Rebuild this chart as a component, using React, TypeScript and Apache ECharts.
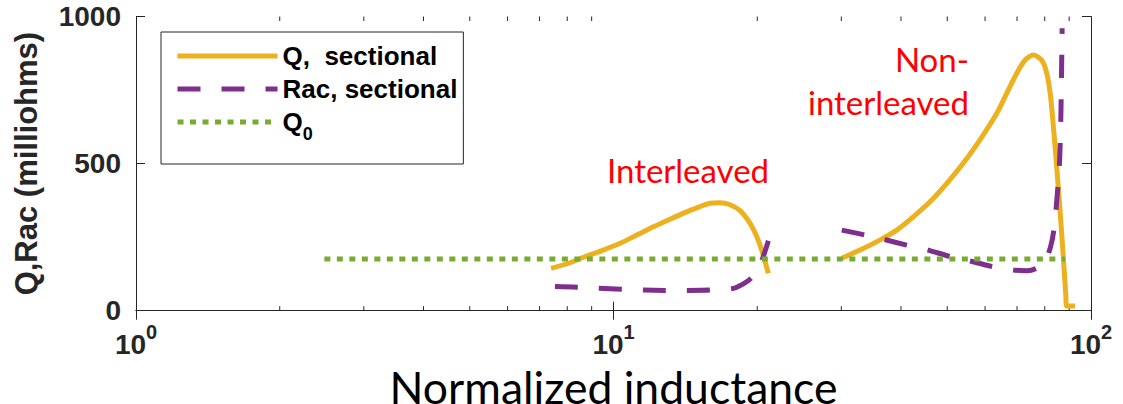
import React, { useEffect, useRef } from 'react';
import * as echarts from 'echarts';

// ---- Data ----
const qInterX = [7.40, 8.11, 8.79, 9.52, 10.32, 11.19, 12.12, 13.13, 14.23, 15.18, 15.93, 16.71, 17.54, 18.41, 19.32, 19.95, 20.43, 21.10];
const qInterY = [144, 163, 186, 206, 229, 257, 285, 311, 336, 354, 365, 367, 360, 340, 297, 252, 206, 127];
const qNonX = [30.06, 32.83, 36.1, 39.19, 42.5, 46.0, 49.9, 54.0, 58.5, 63.5, 66.6, 69.9, 72.8, 75.7, 78.8, 80.8, 82.3, 84.1, 85.7, 87.2, 88.6, 88.9, 92.6];
const qNonY = [178, 206, 240, 274, 320, 370, 433, 501, 580, 671, 739, 807, 852, 869, 852, 807, 727, 557, 388, 218, 48, 16, 16];

const racInterX = [7.54, 8.37, 9.29, 10.40, 11.54, 12.82, 14.23, 15.93, 17.82, 18.70, 19.47, 20.10, 20.59, 21.10];
const racInterY = [82, 80, 76, 73, 70, 69, 69, 70, 76, 91, 112, 144, 184, 238];
const racNonX = [30.06, 32.83, 36.1, 41.1, 45.6, 50.7, 55.8, 61.4, 68.8, 73.4, 76.9, 80.1, 82.3, 83.6, 84.7, 85.9, 86.5, 87.0];
const racNonY = [274, 261, 246, 223, 206, 184, 169, 152, 138, 136, 144, 167, 218, 274, 365, 501, 671, 960];

const q0X = [2.48, 88.2];
const q0Y = [176, 176];

const minorTickValues = [2, 3, 4, 5, 6, 7, 8, 9, 20, 30, 40, 50, 60, 70, 80, 90];

const seriesNames = ['Q,  sectional', 'Rac, sectional', 'Q0'];
const yTicks = { min: 0, max: 1000, interval: 500 };
const xRange = { min: 1, max: 100 };

const pairs = (xs: number[], ys: number[]) => xs.map((x, i) => [x, ys[i]]);
const joinSegments = (a: any[], b: any[]) => [...a, [25, '-'], ...b];

const AXIS = '#262626';
const BOLD_FONT = '"Liberation Sans", Arial, sans-serif';
const CAL_FONT = 'Lato, "Open Sans", sans-serif';

export default function App() {
  const ref = useRef<HTMLDivElement>(null);

  useEffect(() => {
    if (!ref.current) return;
    const chart = echarts.init(ref.current, null, { renderer: 'svg' });

    const axisLineStyle = { show: true, lineStyle: { color: AXIS, width: 1 } };
    const redText = (text: string, x: number, y: number, align: string) => ({
      type: 'text',
      x,
      y,
      silent: true,
      style: {
        text,
        fill: '#FF0000',
        fontFamily: CAL_FONT,
        fontSize: 33,
        textAlign: align,
        align,
        textVerticalAlign: 'middle',
        verticalAlign: 'middle',
      },
    });

    const option: any = {
      animation: false,
      backgroundColor: '#ffffff',
      grid: {
        left: 136,
        right: 32,
        top: 16.5,
        bottom: 93.3,
        containLabel: false,
        outerBoundsMode: 'none',
      },
      legend: {
        orient: 'vertical',
        left: 161,
        top: 32,
        data: seriesNames,
        selectedMode: false,
        itemWidth: 100,
        itemHeight: 28,
        itemGap: -9,
        padding: [3, 6, 21, 14],
        borderColor: AXIS,
        borderWidth: 1,
        backgroundColor: '#ffffff',
        lineStyle: { width: 'inherit' },
        itemStyle: { opacity: 0, color: 'rgba(0,0,0,0)', borderWidth: 0 },
        formatter: (name: string) => (name === 'Q0' ? '{m|Q}{sub|0}' : `{m|${name}}`),
        textStyle: {
          fontFamily: BOLD_FONT,
          fontWeight: 'bold',
          fontSize: 26,
          color: '#000',
          lineHeight: 42,
          rich: {
            m: { fontFamily: BOLD_FONT, fontWeight: 'bold', fontSize: 26, lineHeight: 42, color: '#000' },
            sub: { fontFamily: BOLD_FONT, fontWeight: 'bold', fontSize: 18, lineHeight: 18, padding: [24, 0, 0, 0], color: '#000' },
          },
        },
      },
      xAxis: [
        {
          type: 'log',
          logBase: 10,
          min: xRange.min,
          max: xRange.max,
          position: 'bottom',
          axisLine: axisLineStyle,
          axisTick: { show: true, inside: true, length: 9, lineStyle: { color: AXIS, width: 1 } },
          splitLine: { show: false },
          axisLabel: {
            margin: 11,
            formatter: (v: number) => `{b|10}{s|${Math.round(Math.log10(v))}}`,
            rich: {
              b: {
                fontFamily: BOLD_FONT,
                fontWeight: 'bold',
                fontSize: 28,
                lineHeight: 30,
                padding: [9, 0, 0, 0],
                verticalAlign: 'top',
                color: AXIS,
              },
              s: {
                fontFamily: BOLD_FONT,
                fontWeight: 'bold',
                fontSize: 20,
                lineHeight: 20,
                verticalAlign: 'top',
                color: AXIS,
              },
            },
          },
          name: 'Normalized inductance',
          nameLocation: 'middle',
          nameGap: 41,
          nameTextStyle: { fontFamily: CAL_FONT, fontSize: 44.5, lineHeight: 42, color: '#000' },
        },
        {
          type: 'log',
          logBase: 10,
          min: xRange.min,
          max: xRange.max,
          position: 'top',
          axisLine: axisLineStyle,
          axisTick: { show: true, inside: true, length: 9, lineStyle: { color: AXIS, width: 1 } },
          axisLabel: { show: false },
          splitLine: { show: false },
        },
      ],
      yAxis: [
        {
          type: 'value',
          min: yTicks.min,
          max: yTicks.max,
          interval: yTicks.interval,
          position: 'left',
          axisLine: axisLineStyle,
          axisTick: { show: true, inside: true, length: 9, lineStyle: { color: AXIS, width: 1 } },
          splitLine: { show: false },
          axisLabel: {
            margin: 15,
            formatter: (v: number) => String(v),
            fontFamily: BOLD_FONT,
            fontWeight: 'bold',
            fontSize: 28,
            color: AXIS,
          },
          name: 'Q,Rac (milliohms)',
          nameLocation: 'middle',
          nameGap: 94,
          nameTextStyle: { fontFamily: BOLD_FONT, fontWeight: 'bold', fontSize: 31, color: AXIS },
        },
        {
          type: 'value',
          min: yTicks.min,
          max: yTicks.max,
          interval: yTicks.interval,
          position: 'right',
          axisLine: axisLineStyle,
          axisTick: { show: true, inside: true, length: 9, lineStyle: { color: AXIS, width: 1 } },
          axisLabel: { show: false },
          splitLine: { show: false },
        },
      ],
      series: [
        {
          name: seriesNames[0],
          type: 'line',
          xAxisIndex: 0,
          yAxisIndex: 0,
          showSymbol: false,
          symbol: 'none',
          smooth: 0.25,
          connectNulls: false,
          lineStyle: { color: '#EDB120', width: 5 },
          itemStyle: { color: '#EDB120' },
          data: joinSegments(pairs(qInterX, qInterY), pairs(qNonX, qNonY)),
        },
        {
          name: seriesNames[1],
          type: 'line',
          xAxisIndex: 0,
          yAxisIndex: 0,
          showSymbol: false,
          symbol: 'none',
          smooth: 0.25,
          connectNulls: false,
          lineStyle: { color: '#7E2F8E', width: 5, type: [23, 21], cap: 'butt' },
          itemStyle: { color: '#7E2F8E' },
          data: joinSegments(pairs(racInterX, racInterY), pairs(racNonX, racNonY)),
        },
        {
          name: seriesNames[2],
          type: 'line',
          xAxisIndex: 0,
          yAxisIndex: 0,
          showSymbol: false,
          symbol: 'none',
          lineStyle: { color: '#77AC30', width: 5, type: [6, 6.5], cap: 'butt' },
          itemStyle: { color: '#77AC30' },
          data: pairs(q0X, q0Y),
        },
        {
          name: 'minorTicks',
          type: 'custom',
          xAxisIndex: 0,
          yAxisIndex: 0,
          silent: true,
          clip: false,
          data: minorTickValues.map((v) => [v, 0]),
          renderItem: (_params: any, api: any) => {
            const v = api.value(0);
            const b = api.coord([v, yTicks.min]);
            const t = api.coord([v, yTicks.max]);
            const st = { stroke: AXIS, lineWidth: 1 };
            return {
              type: 'group',
              children: [
                { type: 'line', shape: { x1: b[0], y1: b[1], x2: b[0], y2: b[1] - 4.5 }, style: st },
                { type: 'line', shape: { x1: t[0], y1: t[1], x2: t[0], y2: t[1] + 4.5 }, style: st },
              ],
            };
          },
        },
      ],
      graphic: [
        redText('Interleaved', 688, 170.2, 'center'),
        redText('Non-', 969, 59.2, 'right'),
        redText('interleaved', 969, 102.2, 'right'),
      ],
    };

    chart.setOption(option);
    return () => {
      chart.dispose();
    };
  }, []);

  return (
    <div
      ref={ref}
      style={{ position: 'absolute', left: 0, top: 0, width: 1123, height: 404, background: '#fff' }}
    />
  );
}
